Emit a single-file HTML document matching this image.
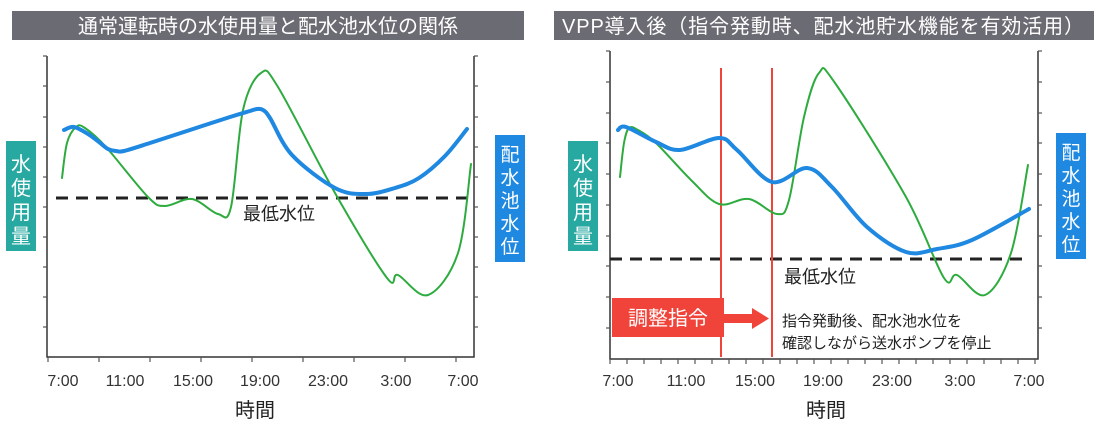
<!DOCTYPE html>
<html><head><meta charset="utf-8"><style>
html,body{margin:0;padding:0;background:#fff;}
svg{display:block;font-family:"Liberation Sans","Noto Sans CJK JP",sans-serif;}
</style></head><body>
<svg id="s" width="1100" height="425" viewBox="0 0 1100 425" xmlns="http://www.w3.org/2000/svg">
<rect x="12" y="11" width="512" height="29" fill="#6b6b73"/>
<text x="268" y="33" font-size="20" fill="#fff" text-anchor="middle">通常運転時の水使用量と配水池水位の関係</text>
<rect x="554" y="11" width="540" height="29" fill="#6b6b73"/>
<text x="562" y="33" font-size="20" fill="#fff" textLength="522" lengthAdjust="spacing">VPP導入後（指令発動時、配水池貯水機能を有効活用）</text>

<g stroke="#333" stroke-width="1.5" fill="none">
<path d="M47 56V357H474V56"/>
<path d="M610 51V359H1038V51"/>
</g>
<g id="ticks" stroke="#555" stroke-width="1.2"></g>

<rect x="6" y="141" width="30" height="110" fill="#27a8a1"/>
<text font-size="20" fill="#fff" text-anchor="middle"><tspan x="21" y="171">水</tspan><tspan x="21" y="195">使</tspan><tspan x="21" y="219">用</tspan><tspan x="21" y="243">量</tspan></text>
<rect x="495" y="135" width="30" height="127" fill="#1f88e0"/>
<text font-size="19" fill="#fff" text-anchor="middle"><tspan x="510" y="161">配</tspan><tspan x="510" y="184">水</tspan><tspan x="510" y="207">池</tspan><tspan x="510" y="230">水</tspan><tspan x="510" y="253">位</tspan></text>

<rect x="568" y="141" width="30" height="110" fill="#27a8a1"/>
<text font-size="20" fill="#fff" text-anchor="middle"><tspan x="583" y="171">水</tspan><tspan x="583" y="195">使</tspan><tspan x="583" y="219">用</tspan><tspan x="583" y="243">量</tspan></text>
<rect x="1056" y="133" width="30" height="126" fill="#1f88e0"/>
<text font-size="19" fill="#fff" text-anchor="middle"><tspan x="1071" y="159">配</tspan><tspan x="1071" y="182">水</tspan><tspan x="1071" y="205">池</tspan><tspan x="1071" y="228">水</tspan><tspan x="1071" y="251">位</tspan></text>

<g font-size="16" fill="#333" text-anchor="middle">
<text x="63" y="386">7:00</text><text x="125" y="386">11:00</text><text x="193" y="386">15:00</text><text x="260" y="386">19:00</text><text x="328" y="386">23:00</text><text x="396" y="386">3:00</text><text x="463" y="386">7:00</text>
<text x="618" y="386">7:00</text><text x="686" y="386">11:00</text><text x="755" y="386">15:00</text><text x="823" y="386">19:00</text><text x="892" y="386">23:00</text><text x="960" y="386">3:00</text><text x="1029" y="386">7:00</text>
</g>
<text x="255" y="417" font-size="20" fill="#222" text-anchor="middle">時間</text>
<text x="826" y="417" font-size="20" fill="#222" text-anchor="middle">時間</text>

<line x1="56" y1="198" x2="472" y2="198" stroke="#222" stroke-width="3" stroke-dasharray="12,8"/>
<text x="243" y="220" font-size="18" fill="#222">最低水位</text>
<line x1="610" y1="259" x2="1025" y2="259" stroke="#222" stroke-width="3" stroke-dasharray="12,8"/>
<text x="784" y="283" font-size="18" fill="#222">最低水位</text>

<line x1="721" y1="68" x2="721" y2="357" stroke="#f0443a" stroke-width="2"/>
<line x1="772" y1="68" x2="772" y2="357" stroke="#f0443a" stroke-width="2"/>
<rect x="612" y="298" width="112" height="39" fill="#f0443a"/>
<text x="668" y="325" font-size="20" fill="#fff" text-anchor="middle">調整指令</text>
<rect x="724" y="314" width="30" height="9" fill="#f0443a"/>
<polygon points="752,308 769,318.5 752,329" fill="#f0443a"/>
<text font-size="15" fill="#222"><tspan x="782" y="326">指令発動後、配水池水位を</tspan><tspan x="782" y="348">確認しながら送水ポンプを停止</tspan></text>

<g fill="none" stroke-linecap="round" stroke-linejoin="round">
<path id="g1" stroke="#2eab3e" stroke-width="2"/>
<path id="b1" stroke="#1f88e0" stroke-width="4"/>
<path id="g2" stroke="#2eab3e" stroke-width="2"/>
<path id="b2" stroke="#1f88e0" stroke-width="4"/>
</g>
</svg>
<script>
function cr(p){var d="M"+p[0][0]+" "+p[0][1];for(var i=0;i<p.length-1;i++){var a=p[i-1]||p[i],b=p[i],c=p[i+1],e=p[i+2]||c;d+=" C"+(b[0]+(c[0]-a[0])/6)+" "+(b[1]+(c[1]-a[1])/6)+" "+(c[0]-(e[0]-b[0])/6)+" "+(c[1]-(e[1]-b[1])/6)+" "+c[0]+" "+c[1];}return d;}
function set(id,p){document.getElementById(id).setAttribute("d",cr(p));}
set("b1",[[64,130],[74,127],[88,134],[99,142],[108,149],[116,151],[124,151],[150,143],[190,130],[230,117],[250,111],[257,109],[263,110],[270,118],[292,155],[335,188],[366,194],[395,188],[419,178],[445,156],[467,129]]);
set("g1",[[62,178],[67,143],[76,127],[85,128],[106,147],[148,197],[165,206],[192,199],[218,214],[231,207],[243,110],[261,73],[278,87],[335,193],[387,278],[398,275],[428,295],[458,253],[471,164]]);
set("b2",[[618,130],[626,127],[656,142],[680,150],[719,138],[737,150],[772,182],[807,168],[832,187],[867,227],[906,252],[937,249],[972,240],[1029,209]]);
set("g2",[[620,177],[624,143],[629,128],[638,130],[656,143],[691,180],[719,204],[749,199],[777,214],[789,200],[804,117],[819,73],[835,83],[906,197],[944,278],[957,275],[985,295],[1011,253],[1028,165]]);
var t="",ys1=[56,86,117,147,177,207,237,267,297,327],ys2=[51,82,113,143,174,205,236,266,297,328];
ys1.forEach(function(y){t+='<line x1="43" y1="'+y+'" x2="47" y2="'+y+'"/><line x1="474" y1="'+y+'" x2="478" y2="'+y+'"/>';});
ys2.forEach(function(y){t+='<line x1="606" y1="'+y+'" x2="610" y2="'+y+'"/><line x1="1038" y1="'+y+'" x2="1042" y2="'+y+'"/>';});
[48,99,150,201,252,303,354,405,456].forEach(function(x){t+='<line x1="'+x+'" y1="357" x2="'+x+'" y2="362"/>';});
for(var x=610;x<=1040;x+=17){t+='<line x1="'+x+'" y1="359" x2="'+x+'" y2="364"/>';}
document.getElementById("ticks").innerHTML=t;
</script>
</body></html>
